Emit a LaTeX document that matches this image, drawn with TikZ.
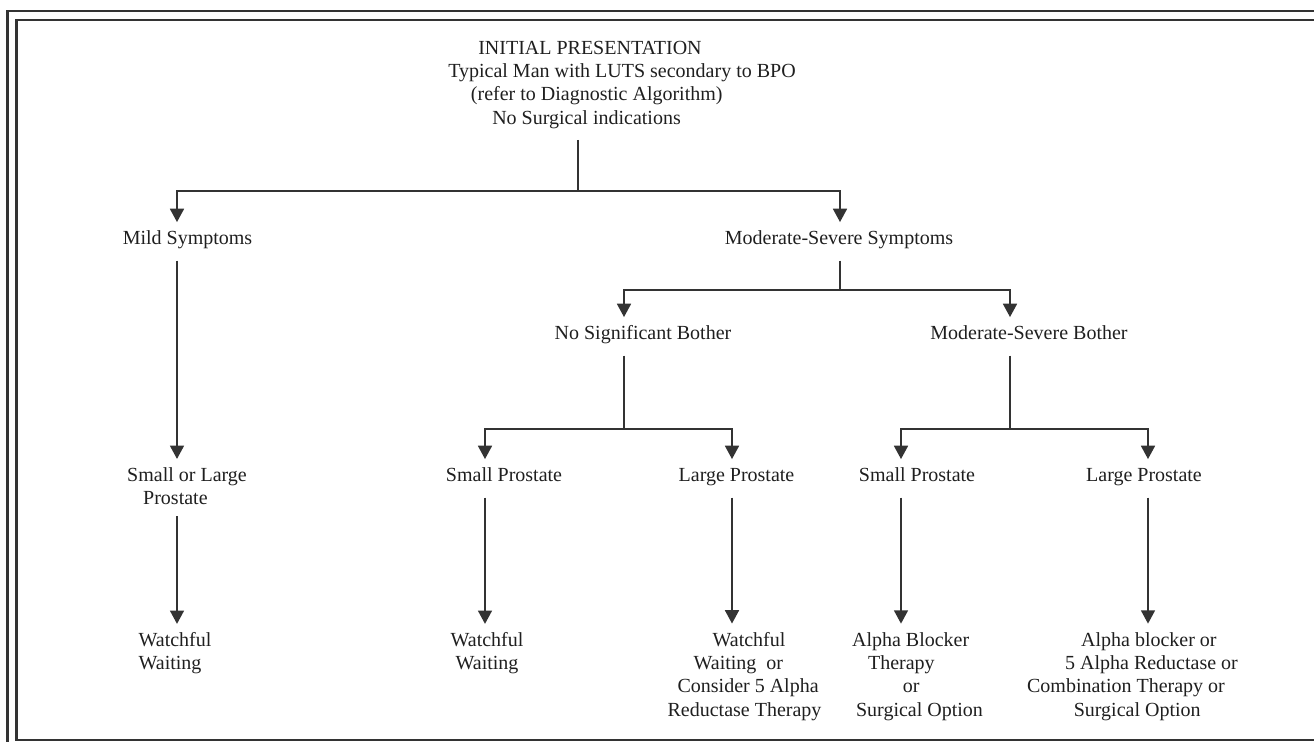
\documentclass[tikz,border=0pt]{standalone}
\usepackage{fontspec}
\setmainfont{Liberation Serif}
\usetikzlibrary{arrows.meta}
\definecolor{ink}{HTML}{333333}
\tikzset{>=Triangle}
\tikzset{
  lbl/.style = {font=\fontsize{15}{17.5}\selectfont, text=ink!60!black, inner sep=0pt, outer sep=6.5pt},
  one/.style = {lbl, text height=10.5pt, text depth=3.4pt},
  many/.style = {lbl, align=left},
  link/.style = {draw=ink, line width=1.2pt},
  arr/.style = {link, -{Triangle[length=10pt, width=10.5pt]}},
  frame/.style = {draw=ink, line width=1.6pt},
}

\begin{document}
\begin{tikzpicture}[x=0.75pt, y=-0.75pt]
\useasboundingbox (0,0) rectangle (1314,742);
% double frame, cut off at the right
\draw [frame] (7.5,742) -- (7.5,11) -- (1314,11);
\draw [frame] (1314,20) -- (16.5,20) -- (16.5,740) -- (1314,740);

% texts
\node [many] (init) at (622,84.7) {\hspace*{22.5pt}INITIAL PRESENTATION\\Typical Man with LUTS secondary to BPO\\\hspace*{17pt}(refer to Diagnostic Algorithm)\\\hspace*{33pt}No Surgical indications};
\node [one] (mild) at (187.5,240) {Mild Symptoms};
\node [one] (mod) at (839,240) {Moderate-Severe Symptoms};
\node [one] (nosig) at (643,335) {No Significant Bother};
\node [one] (msb) at (1029,335) {Moderate-Severe Bother};
\node [many] (smlg) at (187,486.3) {Small or Large\\\hspace*{12pt}Prostate};
\node [one] (sp1) at (504,477) {Small Prostate};
\node [one] (lp1) at (736.5,477) {Large Prostate};
\node [one] (sp2) at (917,477) {Small Prostate};
\node [one] (lp2) at (1144,477) {Large Prostate};
\node [many] (ww1) at (175,653.4) {Watchful\\Waiting};
\node [lbl, align=center] (ww2) at (487,653.4) {Watchful\\Waiting};
\node [many] (ww3) at (744.5,676.4) {\hspace*{33.75pt}Watchful\\\hspace*{19.5pt}Waiting\enspace or\\\hspace*{7.5pt}Consider 5 Alpha\\Reductase Therapy};
\node [many] (ab1) at (917.5,676.4) {Alpha Blocker\\\hspace*{12pt}Therapy\\\hspace*{38pt}or\\\hspace*{3pt}Surgical Option};
\node [many] (ab2) at (1132.5,676.4) {\hspace*{40.5pt}Alpha blocker or\\\hspace*{28.5pt}5 Alpha Reductase or\\Combination Therapy or\\\hspace*{35pt}Surgical Option};

% branch points and stems
\coordinate (j0) at (578,191);
\coordinate (j1) at (840,290);
\coordinate (j2) at (624,429);
\coordinate (j3) at (1010,429);
\coordinate (s-mild) at (177,0);
\coordinate (s-sp1) at (485,0);
\coordinate (s-lp1) at (732,0);
\coordinate (s-sp2) at (901,0);
\coordinate (s-lp2) at (1148,0);

\draw [link, shorten <=2pt] (init.south -| j0) -- (j0);
\draw [arr] (j0) -| (mild.north -| s-mild);
\draw [arr] (j0) -| (mod.north -| j1);
\draw [link, shorten <=2pt] (mod.south -| j1) -- (j1);
\draw [arr] (j1) -| (nosig.north -| j2);
\draw [arr] (j1) -| (msb.north -| j3);
\draw [link, shorten <=2pt] (nosig.south -| j2) -- (j2);
\draw [link, shorten <=2pt] (msb.south -| j3) -- (j3);
\draw [arr] (j2) -| (sp1.north -| s-sp1);
\draw [arr] (j2) -| (lp1.north -| s-lp1);
\draw [arr] (j3) -| (sp2.north -| s-sp2);
\draw [arr] (j3) -| (lp2.north -| s-lp2);
\draw [arr, shorten <=2pt] (mild.south -| s-mild) -- (smlg.north -| s-mild);
\draw [arr, shorten <=2pt] (smlg.south -| s-mild) -- (ww1.north -| s-mild);
\draw [arr, shorten <=2pt] (sp1.south -| s-sp1) -- (ww2.north -| s-sp1);
\draw [arr, shorten <=2pt] (lp1.south -| s-lp1) -- (ww3.north -| s-lp1);
\draw [arr, shorten <=2pt] (sp2.south -| s-sp2) -- (ab1.north -| s-sp2);
\draw [arr, shorten <=2pt] (lp2.south -| s-lp2) -- (ab2.north -| s-lp2);
\end{tikzpicture}
\end{document}
